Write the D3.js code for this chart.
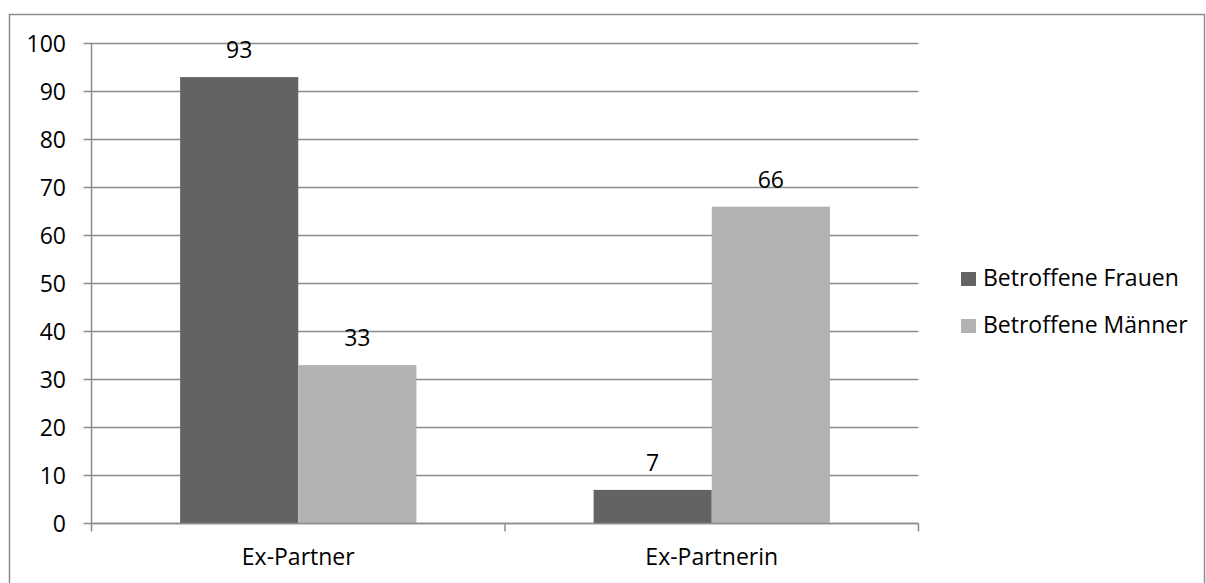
<!DOCTYPE html>
<html><head><meta charset="utf-8">
<script src="https://cdn.jsdelivr.net/npm/d3@7"></script>
<style>body{margin:0;background:#fff}svg{display:block}text{font-family:"Open Sans",Lato,sans-serif;fill:#000}</style>
</head><body><svg id="c" width="1206" height="583"></svg>
<script>
const categories = ["Ex-Partner", "Ex-Partnerin"];
const seriesNames = ["Betroffene Frauen", "Betroffene Männer"];
const frauen = [93, 7];
const maenner = [33, 66];
const yTicks = [0, 10, 20, 30, 40, 50, 60, 70, 80, 90, 100];
const colors = ["#636363", "#b2b2b2"];

(function () {
const svg = d3.select("#c");
const fs = 23;
svg.append("rect").attr("x", 9.5).attr("y", 14.5).attr("width", 1195).attr("height", 580)
  .attr("fill", "none").attr("stroke", "#8c8c8c").attr("stroke-width", 1.5);

const pL = 91.5, pR = 918.5, pT = 43.5, pB = 523.5;
const x0 = d3.scaleBand().domain(categories).range([pL, pR]).paddingInner(0).paddingOuter(0);
const x1 = d3.scaleBand().domain(seriesNames).range([0, x0.bandwidth()]).paddingInner(0).paddingOuter(0.75);
const y = d3.scaleLinear().domain([0, 100]).range([pB, pT]);

const g = svg.append("g");
g.selectAll("line.grid").data(yTicks).join("line")
  .attr("x1", pL - 8).attr("x2", pR).attr("y1", d => y(d)).attr("y2", d => y(d))
  .attr("stroke", "#8c8c8c").attr("stroke-width", 1.5);
g.append("line").attr("x1", pL).attr("x2", pL).attr("y1", pT).attr("y2", pB)
  .attr("stroke", "#8c8c8c").attr("stroke-width", 1.5);
g.selectAll("text.yl").data(yTicks).join("text")
  .attr("x", 66).attr("y", d => y(d)).attr("dy", "0.36em").attr("text-anchor", "end")
  .attr("font-size", fs).text(d => d);

const data = categories.map((c, i) => ({cat: c, vals: [frauen[i], maenner[i]]}));
const cg = g.selectAll("g.cat").data(data).join("g").attr("transform", d => `translate(${x0(d.cat)},0)`);
cg.selectAll("rect").data(d => d.vals.map((v, j) => ({v, s: seriesNames[j], j}))).join("rect")
  .attr("x", d => x1(d.s)).attr("width", x1.bandwidth())
  .attr("y", d => y(d.v)).attr("height", d => y(0) - y(d.v))
  .attr("fill", d => colors[d.j]);
cg.selectAll("text").data(d => d.vals.map((v, j) => ({v, s: seriesNames[j], j}))).join("text")
  .attr("x", d => x1(d.s) + x1.bandwidth() / 2).attr("y", d => y(d.v) - 19)
  .attr("text-anchor", "middle").attr("font-size", fs).text(d => d.v);

g.append("line").attr("x1", pL).attr("x2", pR).attr("y1", pB).attr("y2", pB)
  .attr("stroke", "#8c8c8c").attr("stroke-width", 1.5);
const bounds = [pL, x0(categories[1]), pR];
g.selectAll("line.xt").data(bounds).join("line")
  .attr("x1", d => d).attr("x2", d => d).attr("y1", pB).attr("y2", pB + 8)
  .attr("stroke", "#8c8c8c").attr("stroke-width", 1.5);
g.selectAll("text.xl").data(categories).join("text")
  .attr("x", d => x0(d) + x0.bandwidth() / 2).attr("y", 565)
  .attr("text-anchor", "middle").attr("font-size", fs).text(d => d);

const lg = svg.append("g");
seriesNames.forEach((s, i) => {
  lg.append("rect").attr("x", 961).attr("y", 272 + i * 47).attr("width", 15).attr("height", 14).attr("fill", colors[i]);
  lg.append("text").attr("x", 983).attr("y", 286 + i * 47).attr("font-size", fs).text(s);
});
})();
</script></body></html>
